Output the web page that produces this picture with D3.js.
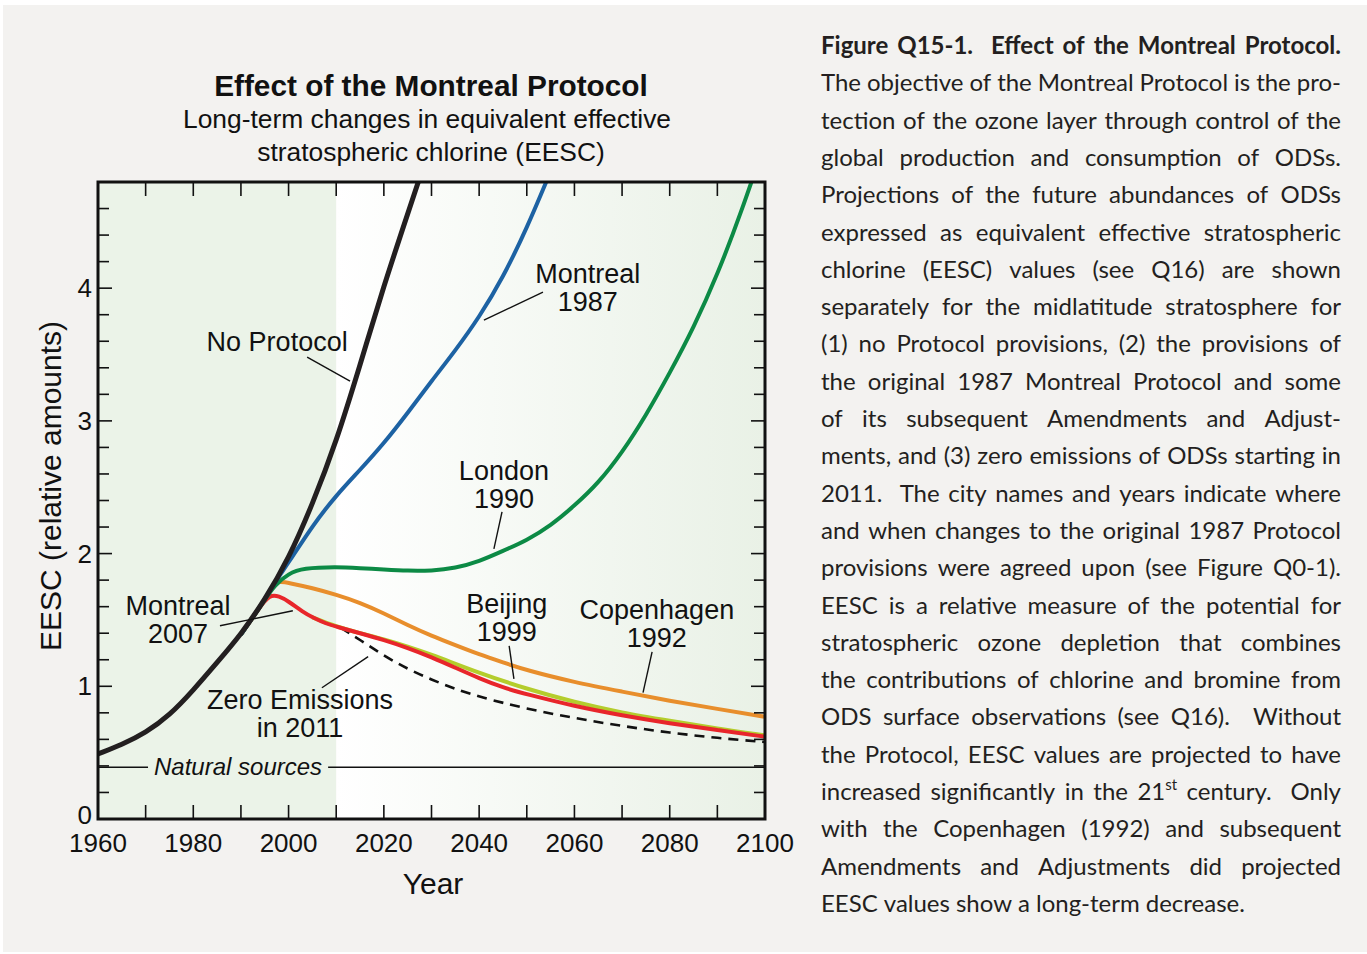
<!DOCTYPE html>
<html lang="en">
<head>
  <meta charset="UTF-8">
  <title>Effect of the Montreal Protocol</title>
  <script src="https://d3js.org/d3.v7.min.js"></script>
  <style>
    body {
      margin: 0;
      background: #ffffff;
    }
    svg {
      display: block;
    }
  </style>
</head>
<body>

  <div id="chart"></div>

  <script>
    // EESC series, [year, relative amount]
    const noProtocol = [[1960,0.49],[1965,0.56],[1970,0.65],[1975,0.78],[1980,0.97],[1985,1.18],[1990,1.39],[1995,1.65],[2000,1.96],[2005,2.37],[2010,2.84],[2015,3.42],[2020,4.02],[2025,4.56],[2030,5.10]];
    const montreal1987 = [[1990,1.39],[1995,1.65],[1997,1.78],[2000,1.93],[2005,2.21],[2010,2.44],[2015,2.63],[2020,2.83],[2025,3.06],[2030,3.30],[2035,3.53],[2040,3.78],[2045,4.08],[2050,4.45],[2055,4.88]];
    const london1990 = [[1990,1.39],[1995,1.65],[1997,1.76],[2000,1.85],[2003,1.89],[2010,1.90],[2015,1.89],[2020,1.88],[2025,1.87],[2030,1.87],[2035,1.89],[2040,1.94],[2045,2.02],[2050,2.10],[2055,2.21],[2060,2.36],[2065,2.53],[2070,2.76],[2075,3.04],[2080,3.36],[2085,3.70],[2090,4.10],[2095,4.57],[2100,5.10]];
    const copenhagen1992 = [[1990,1.39],[1995,1.65],[1997,1.77],[1998,1.79],[2000,1.78],[2005,1.74],[2010,1.69],[2015,1.63],[2020,1.55],[2025,1.46],[2030,1.38],[2035,1.31],[2040,1.24],[2045,1.18],[2050,1.12],[2060,1.03],[2070,0.96],[2080,0.89],[2090,0.83],[2100,0.77]];
    const beijing1999 = [[2005,1.52],[2010,1.45],[2015,1.40],[2020,1.355],[2025,1.30],[2030,1.24],[2040,1.10],[2050,0.98],[2060,0.88],[2070,0.80],[2080,0.74],[2090,0.68],[2100,0.63]];
    const montreal2007 = [[1990,1.39],[1994,1.60],[1996,1.69],[1998,1.68],[2000,1.64],[2003,1.56],[2005,1.52],[2008,1.47],[2010,1.45],[2015,1.40],[2020,1.35],[2025,1.29],[2030,1.22],[2035,1.14],[2040,1.06],[2045,0.99],[2050,0.94],[2060,0.85],[2070,0.78],[2080,0.72],[2090,0.67],[2100,0.62]];
    const zeroEmissions2011 = [[2011,1.44],[2015,1.35],[2020,1.23],[2025,1.13],[2030,1.05],[2035,0.98],[2040,0.92],[2050,0.83],[2060,0.76],[2070,0.70],[2080,0.65],[2090,0.61],[2100,0.58]];
    const naturalSources = 0.39;

    const xTicks = d3.range(1960, 2101, 10);
    const xTickLabels = [1960, 1980, 2000, 2020, 2040, 2060, 2080, 2100];
    const yTicks = d3.range(0, 4.81, 0.2);
    const yTickLabels = [0, 1, 2, 3, 4];

    // labels: text lines, anchor [year, value] of first baseline, pointer from/to
    const labels = [
      { lines: ["No Protocol"], at: [1997.6, 3.53], from: [2003.9, 3.48], to: [2012.9, 3.30] },
      { lines: ["Montreal", "1987"], at: [2062.8, 4.04], from: [2053.4, 3.97], to: [2041.0, 3.76] },
      { lines: ["London", "1990"], at: [2045.2, 2.556], from: [2044.8, 2.315], to: [2043.1, 2.036] },
      { lines: ["Beijing", "1999"], at: [2045.8, 1.554], from: [2046.3, 1.305], to: [2047.3, 1.056] },
      { lines: ["Copenhagen", "1992"], at: [2077.3, 1.507], from: [2076.3, 1.26], to: [2074.4, 0.952] },
      { lines: ["Montreal", "2007"], at: [1976.8, 1.54], from: [1985.6, 1.456], to: [2000.9, 1.569] },
      { lines: ["Zero Emissions", "in 2011"], at: [2002.4, 0.831], from: [2007.0, 0.989], to: [2016.7, 1.223] }
    ];

    const captionTitle = "Figure Q15-1.  Effect of the Montreal Protocol.";
    const captionLines = [
      "The objective of the Montreal Protocol is the pro-",
      "tection of the ozone layer through control of the",
      "global production and consumption of ODSs.",
      "Projections of the future abundances of ODSs",
      "expressed as equivalent effective stratospheric",
      "chlorine (EESC) values (see Q16) are shown",
      "separately for the midlatitude stratosphere for",
      "(1) no Protocol provisions, (2) the provisions of",
      "the original 1987 Montreal Protocol and some",
      "of its subsequent Amendments and Adjust-",
      "ments, and (3) zero emissions of ODSs starting in",
      "2011.  The city names and years indicate where",
      "and when changes to the original 1987 Protocol",
      "provisions were agreed upon (see Figure Q0-1).",
      "EESC is a relative measure of the potential for",
      "stratospheric ozone depletion that combines",
      "the contributions of chlorine and bromine from",
      "ODS surface observations (see Q16).  Without",
      "the Protocol, EESC values are projected to have",
      "increased significantly in the 21^st century.  Only",
      "with the Copenhagen (1992) and subsequent",
      "Amendments and Adjustments did projected",
      "EESC values show a long-term decrease."
    ];

    const W = 1367, H = 954;
    const plot = { left: 98, right: 765, top: 182, bottom: 819 };
    const ink = "#111";
    const sans = "'Liberation Sans', Arial, sans-serif";

    const svg = d3.select("#chart").append("svg")
      .attr("width", W)
      .attr("height", H);

    svg.append("rect")
      .attr("x", 3).attr("y", 5)
      .attr("width", W - 3).attr("height", H - 7)
      .attr("fill", "#f3f2f0");

    const x = d3.scaleLinear().domain([1960, 2100]).range([plot.left, plot.right]);
    const y = d3.scaleLinear().domain([0, 4.8]).range([plot.bottom, plot.top]);

    // background shading
    const defs = svg.append("defs");
    const grad = defs.append("linearGradient").attr("id", "fade");
    grad.append("stop").attr("offset", "0%").attr("stop-color", "#ffffff");
    grad.append("stop").attr("offset", "100%").attr("stop-color", "#e9f1e6");
    defs.append("clipPath").attr("id", "clip")
      .append("rect")
      .attr("x", plot.left).attr("y", plot.top)
      .attr("width", plot.right - plot.left).attr("height", plot.bottom - plot.top);

    svg.append("rect")
      .attr("x", x(1960)).attr("y", plot.top)
      .attr("width", x(2010) - x(1960)).attr("height", plot.bottom - plot.top)
      .attr("fill", "#ebf3e8");
    svg.append("rect")
      .attr("x", x(2010)).attr("y", plot.top)
      .attr("width", x(2100) - x(2010)).attr("height", plot.bottom - plot.top)
      .attr("fill", "url(#fade)");

    // natural sources line with a gap for its label
    const nat = svg.append("g");
    nat.append("line")
      .attr("x1", x(1960)).attr("x2", x(1970.5))
      .attr("y1", y(naturalSources)).attr("y2", y(naturalSources))
      .attr("stroke", ink).attr("stroke-width", 1.5);
    nat.append("line")
      .attr("x1", x(2008.3)).attr("x2", x(2100))
      .attr("y1", y(naturalSources)).attr("y2", y(naturalSources))
      .attr("stroke", ink).attr("stroke-width", 1.5);
    nat.append("text")
      .attr("x", x(1989.4)).attr("y", y(naturalSources) + 8)
      .attr("text-anchor", "middle")
      .style("font-family", sans)
      .style("font-style", "italic")
      .style("font-size", "24px")
      .attr("fill", ink)
      .text("Natural sources");

    // curves
    const line = d3.line()
      .x(d => x(d[0]))
      .y(d => y(d[1]))
      .curve(d3.curveBasis);

    const series = [
      { data: zeroEmissions2011, color: ink, width: 2.6, dash: "10,7" },
      { data: beijing1999, color: "#b4cd2c", width: 4 },
      { data: montreal2007, color: "#e8262b", width: 4 },
      { data: copenhagen1992, color: "#e88e2c", width: 4 },
      { data: london1990, color: "#0c8a45", width: 4 },
      { data: montreal1987, color: "#1d62a3", width: 4 },
      { data: noProtocol, color: "#231f20", width: 5 }
    ];

    svg.append("g")
      .attr("clip-path", "url(#clip)")
      .selectAll("path")
      .data(series)
      .enter()
      .append("path")
      .attr("d", d => line(d.data))
      .attr("fill", "none")
      .attr("stroke", d => d.color)
      .attr("stroke-width", d => d.width)
      .attr("stroke-dasharray", d => d.dash || null)
      .attr("stroke-linejoin", "round");

    // annotations
    const ann = svg.append("g")
      .style("font-family", sans)
      .style("font-size", "27px")
      .attr("fill", ink);

    labels.forEach(l => {
      l.lines.forEach((t, i) => {
        ann.append("text")
          .attr("x", x(l.at[0]))
          .attr("y", y(l.at[1]) + i * 28)
          .attr("text-anchor", "middle")
          .text(t);
      });
      ann.append("line")
        .attr("x1", x(l.from[0])).attr("y1", y(l.from[1]))
        .attr("x2", x(l.to[0])).attr("y2", y(l.to[1]))
        .attr("stroke", ink).attr("stroke-width", 1.4);
    });

    // ticks, inward on all four sides
    const ticks = svg.append("g").attr("stroke", ink).attr("stroke-width", 1.6);
    xTicks.forEach(t => {
      ticks.append("line").attr("x1", x(t)).attr("x2", x(t))
        .attr("y1", plot.bottom).attr("y2", plot.bottom - 14);
      ticks.append("line").attr("x1", x(t)).attr("x2", x(t))
        .attr("y1", plot.top).attr("y2", plot.top + 14);
    });
    yTicks.forEach(t => {
      const major = Math.abs(t - Math.round(t)) < 1e-6;
      const len = major ? 14 : 11;
      ticks.append("line").attr("x1", plot.left).attr("x2", plot.left + len)
        .attr("y1", y(t)).attr("y2", y(t));
      ticks.append("line").attr("x1", plot.right).attr("x2", plot.right - len)
        .attr("y1", y(t)).attr("y2", y(t));
    });

    svg.append("rect")
      .attr("x", plot.left).attr("y", plot.top)
      .attr("width", plot.right - plot.left).attr("height", plot.bottom - plot.top)
      .attr("fill", "none")
      .attr("stroke", ink)
      .attr("stroke-width", 3);

    const axisText = svg.append("g")
      .style("font-family", sans)
      .style("font-size", "26px")
      .attr("fill", ink);

    xTickLabels.forEach(t => {
      axisText.append("text")
        .attr("x", x(t)).attr("y", plot.bottom + 33)
        .attr("text-anchor", "middle")
        .text(t);
    });
    yTickLabels.forEach(t => {
      axisText.append("text")
        .attr("x", plot.left - 6).attr("y", y(t) + (t === 0 ? 5 : 9))
        .attr("text-anchor", "end")
        .text(t);
    });

    axisText.append("text")
      .attr("x", 433).attr("y", 894)
      .attr("text-anchor", "middle")
      .style("font-size", "30px")
      .text("Year");

    axisText.append("text")
      .attr("transform", "translate(61,486) rotate(-90)")
      .attr("text-anchor", "middle")
      .style("font-size", "30px")
      .text("EESC (relative amounts)");

    // title
    const title = svg.append("g")
      .style("font-family", sans)
      .attr("fill", ink)
      .attr("text-anchor", "middle");
    title.append("text").attr("x", 431).attr("y", 96)
      .style("font-size", "29.8px").style("font-weight", "bold")
      .text("Effect of the Montreal Protocol");
    title.append("text").attr("x", 427).attr("y", 128)
      .style("font-size", "26.4px")
      .text("Long-term changes in equivalent effective");
    title.append("text").attr("x", 431).attr("y", 161)
      .style("font-size", "26.4px")
      .text("stratospheric chlorine (EESC)");

    // caption, justified
    const cap = svg.append("g")
      .style("font-family", "Lato, 'Open Sans', sans-serif")
      .style("font-size", "24px")
      .attr("fill", "#231f20");

    const capLeft = 821, capRight = 1341, capTop = 54, capStep = 37.3;

    function addWord(g, word, wx, wy) {
      const t = g.append("text").attr("x", wx).attr("y", wy);
      const parts = word.split("^");
      t.append("tspan").text(parts[0]);
      if (parts[1]) {
        t.append("tspan")
          .attr("dy", -10)
          .style("font-size", "15px")
          .text(parts[1]);
      }
      return t;
    }

    function setLine(text, row, bold, justify) {
      const g = cap.append("g").style("font-weight", bold ? "bold" : null);
      const wy = capTop + row * capStep;
      const words = text.split(" ");
      const nodes = words.map(w => addWord(g, w, capLeft, wy));
      let widths = nodes.map(n => n.node().getComputedTextLength());
      let total = d3.sum(widths);
      const minGap = 3.5;
      const avail = capRight - capLeft - minGap * (words.length - 1);
      if (total > avail) {
        // squeeze glyphs slightly so the line still fits the column
        const k = avail / total;
        nodes.forEach((n, i) => {
          n.attr("textLength", widths[i] * k).attr("lengthAdjust", "spacingAndGlyphs");
        });
        widths = widths.map(w => w * k);
        total = avail;
      }
      const space = justify && words.length > 1
        ? (capRight - capLeft - total) / (words.length - 1)
        : 6;
      let cx = capLeft;
      nodes.forEach((n, i) => {
        n.attr("x", cx);
        cx += widths[i] + space;
      });
    }

    setLine(captionTitle, 0, true, true);
    captionLines.forEach((t, i) => {
      setLine(t, i + 1, false, i < captionLines.length - 1);
    });
  </script>

</body>
</html>
